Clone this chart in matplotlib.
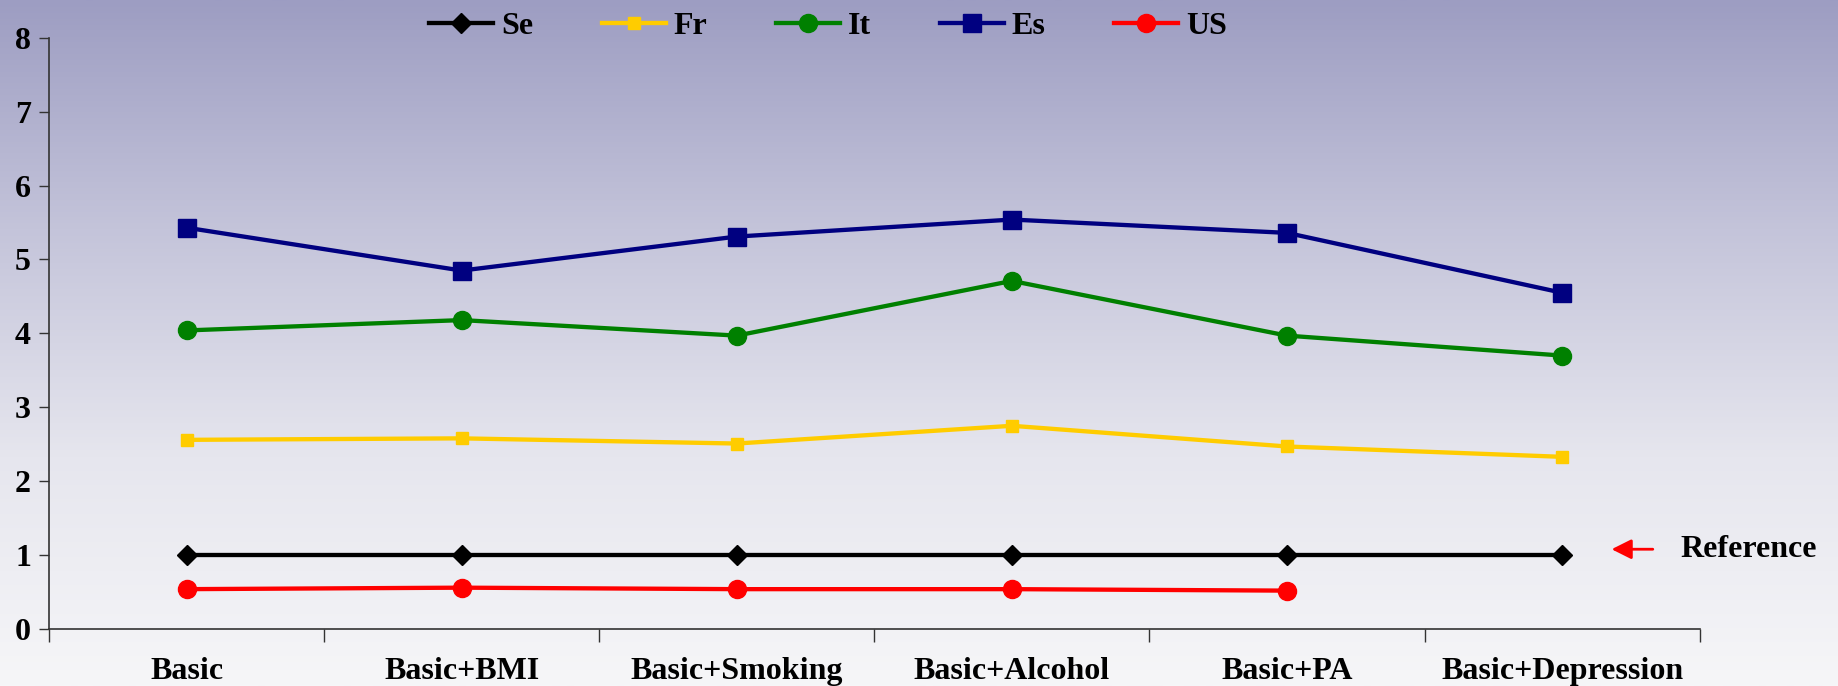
import numpy as np
import matplotlib
matplotlib.use('Agg')
import matplotlib.pyplot as plt
from matplotlib.colors import LinearSegmentedColormap

models = ['Basic', 'Basic+BMI', 'Basic+Smoking', 'Basic+Alcohol', 'Basic+PA', 'Basic+Depression']
se = [1, 1, 1, 1, 1, 1]
fr = [2.56, 2.58, 2.51, 2.75, 2.47, 2.33]
it = [4.04, 4.18, 3.97, 4.71, 3.97, 3.70]
es = [5.43, 4.85, 5.31, 5.54, 5.36, 4.55]
us = [0.54, 0.56, 0.54, 0.54, 0.52]

plt.rcParams['font.family'] = ['Liberation Serif', 'DejaVu Serif']
plt.rcParams['font.weight'] = 'bold'

fig = plt.figure(figsize=(18.38, 6.86), dpi=100)

# background gradient, darker at the top
bg = fig.add_axes([0, 0, 1, 1], zorder=-10)
cmap = LinearSegmentedColormap.from_list('bg', ['#f6f6f8', '#e6e6ee', '#c4c4da', '#9d9dc2'])
grad = np.linspace(0, 1, 256).reshape(-1, 1)
bg.imshow(grad, aspect='auto', cmap=cmap, origin='lower', extent=[0, 1, 0, 1])
bg.axis('off')

ax = fig.add_axes([0.0267, 0.083, 0.898, 0.862])
ax.patch.set_alpha(0)

x = np.arange(len(models)) + 0.5
lw = 3.1
ax.plot(x, se, color='black', lw=lw, marker='D', ms=10, label='Se', zorder=5)
ax.plot(x, fr, color='#ffcc00', lw=lw, marker='s', ms=8.5, label='Fr', zorder=4)
ax.plot(x, it, color='#008000', lw=lw, marker='o', ms=13, label='It', zorder=4)
ax.plot(x, es, color='#000080', lw=lw, marker='s', ms=13.5, label='Es', zorder=4)
ax.plot(x[:len(us)], us, color='#ff0000', lw=lw, marker='o', ms=13, label='US', zorder=4)

fs = 23
ax.set_xlim(0, 6)
ax.set_ylim(0, 8)
ax.set_xticks(np.arange(0, 7))
ax.set_xticklabels([])
ax.set_xticks(x, minor=True)
ax.set_xticklabels(models, minor=True, fontsize=fs, fontweight='bold')
ax.tick_params(axis='x', which='minor', length=0, pad=20)
ax.tick_params(axis='x', which='major', length=9, width=1, color='#333333')
ax.set_yticks(range(0, 9))
ax.tick_params(axis='y', length=7, width=1, color='#333333', labelsize=fs, pad=6)
for lab in ax.get_yticklabels():
    lab.set_fontweight('bold')
for s in ['top', 'right']:
    ax.spines[s].set_visible(False)
for s in ['left', 'bottom']:
    ax.spines[s].set_color('#333333')
    ax.spines[s].set_linewidth(1.2)

ax.annotate('', xy=(5.67, 1.08), xytext=(5.84, 1.08),
            arrowprops=dict(arrowstyle='-|>', color='red', lw=2, mutation_scale=30),
            annotation_clip=False)
ax.text(5.93, 1.08, 'Reference', fontsize=fs, fontweight='bold', va='center', ha='left')

fig.legend(loc='upper center', bbox_to_anchor=(0.4505, 1.025), ncol=5, frameon=False,
           prop={'size': fs, 'weight': 'bold'}, columnspacing=2.15, handlelength=2.0,
           handletextpad=0.25)

plt.savefig('out.png', dpi=100)
